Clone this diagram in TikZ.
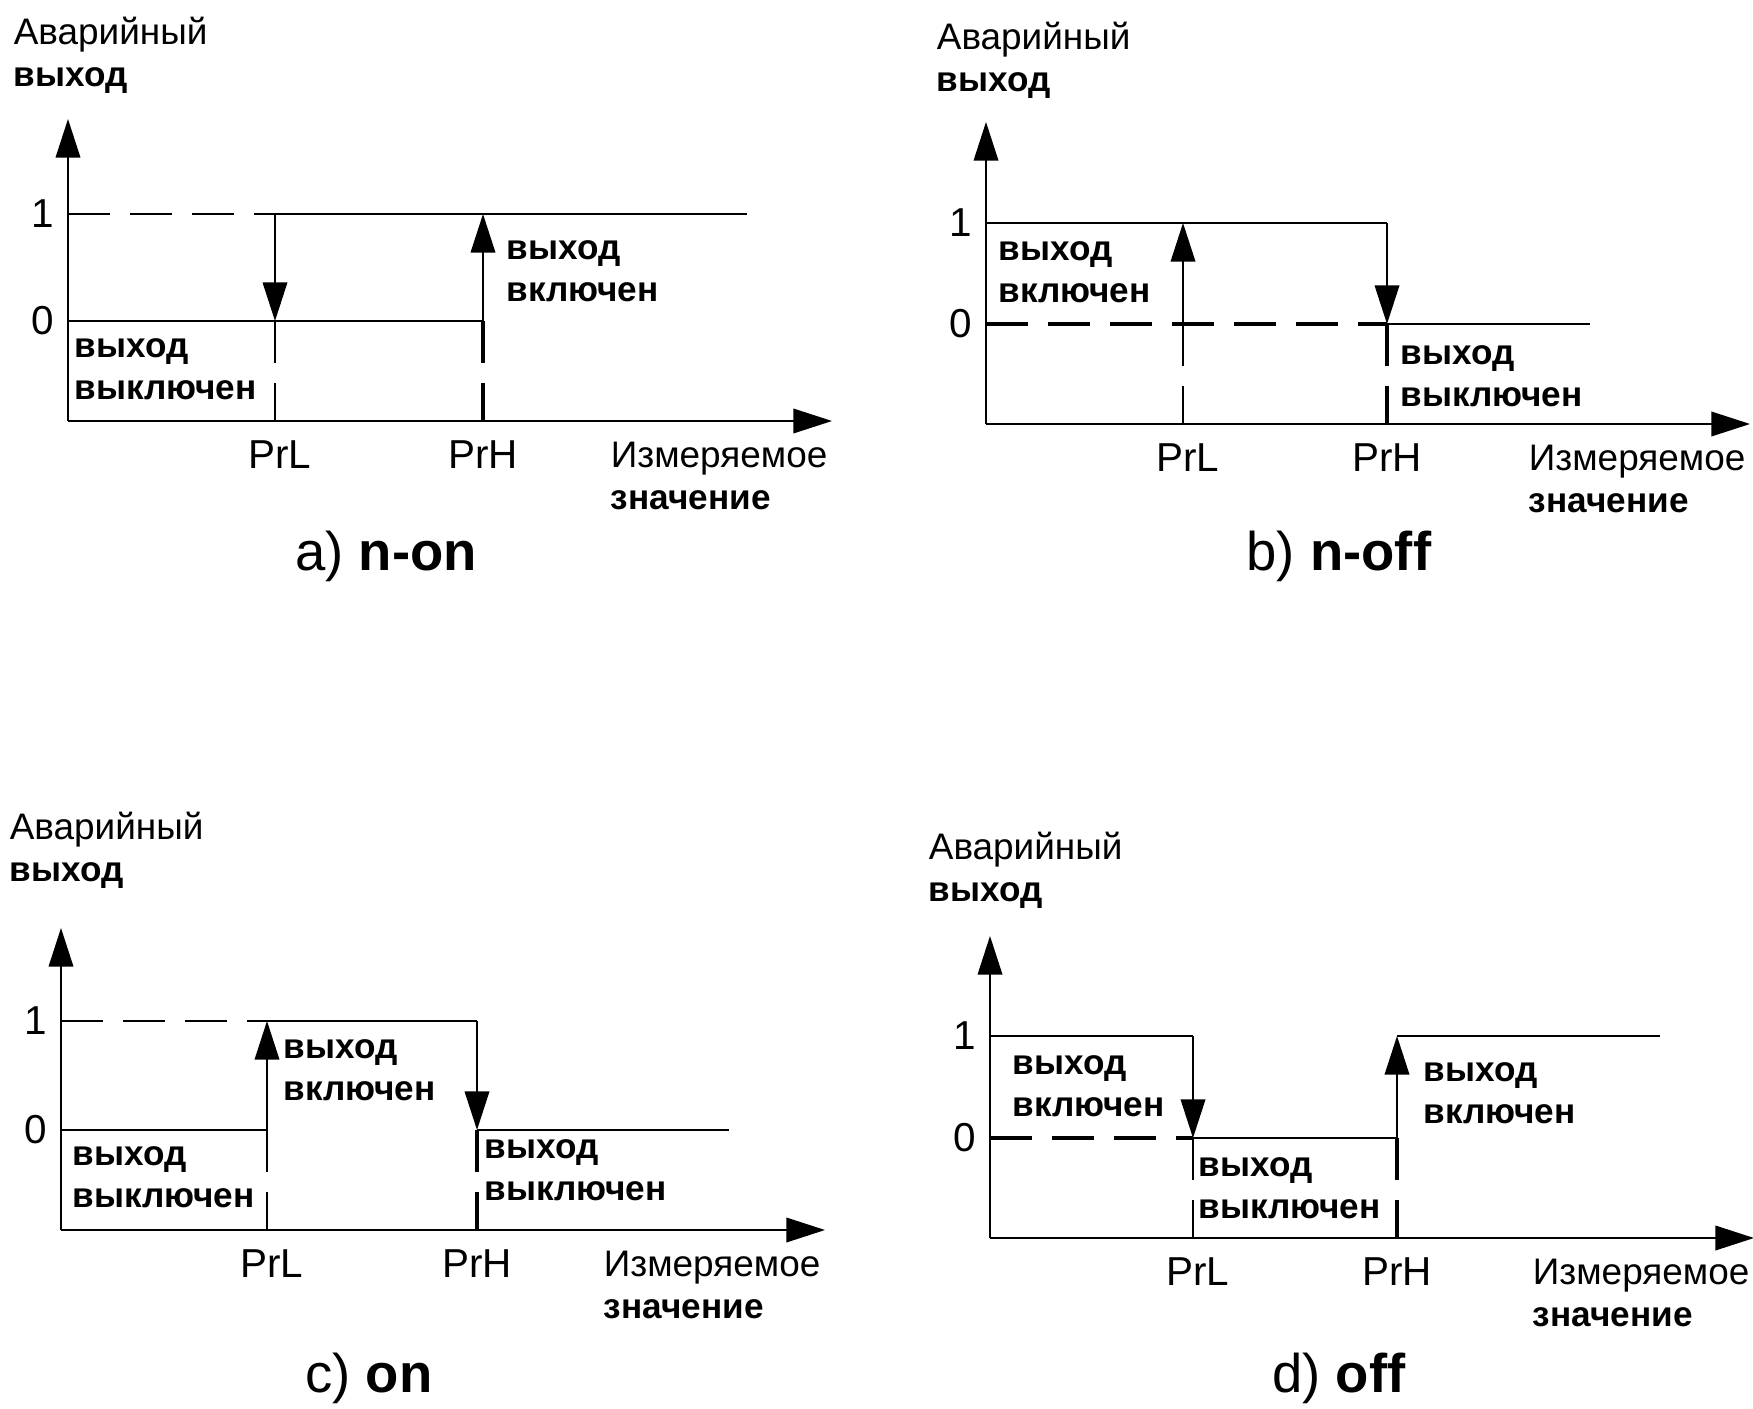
\documentclass[tikz,border=0pt]{standalone}
\usepackage{fontspec}
\setmainfont{Liberation Sans}
\usetikzlibrary{arrows.meta}

\begin{document}
\begin{tikzpicture}[
    >={Triangle[width=7pt, length=11pt]},
    line width=0.5pt,
    heavy/.style={line width=1.1pt},
    dashline/.style={dash pattern=on 0.42cm off 0.2cm},
    state/.style={font=\fontsize{10}{12}\selectfont\bfseries,
                  align=left, anchor=west, inner sep=0pt},
    axlbl/.style={font=\fontsize{10.5}{12}\selectfont,
                  align=left, anchor=west, inner sep=0pt},
    ticklbl/.style={font=\fontsize{11.5}{13}\selectfont, inner sep=0pt},
    plotcap/.style={font=\fontsize{15.5}{18}\selectfont, inner sep=0pt}
  ]
  \useasboundingbox (0,0) rectangle (17.53,14.08);

  % axes, levels and common labels of the four plots
  \foreach \p/\ox/\oy/\lv/\pl/\ph/\ex/\tx/\ty in {
      a/0.68/9.87/2.07/2.07/4.15/6.79/-0.55/3.66,
      b/9.86/9.84/2.01/1.97/4.01/6.04/-0.50/3.64,
      c/0.61/1.78/2.09/2.06/4.16/6.68/-0.52/3.80,
      d/9.90/1.70/2.02/2.03/4.07/6.70/-0.62/3.68} {
    \begin{scope}[shift={(\ox,\oy)}]
      \coordinate (\p-O)  at (0,0);
      \coordinate (\p-1)  at (0,\lv);
      \coordinate (\p-0)  at (0,1.0);
      \coordinate (\p-Lx) at (\pl,0);
      \coordinate (\p-L0) at (\pl,1.0);
      \coordinate (\p-L1) at (\pl,\lv);
      \coordinate (\p-Hx) at (\ph,0);
      \coordinate (\p-H0) at (\ph,1.0);
      \coordinate (\p-H1) at (\ph,\lv);
      \coordinate (\p-E0) at (\ex,1.0);
      \coordinate (\p-E1) at (\ex,\lv);
      \coordinate (\p-Y)  at (0,3.02);
      \coordinate (\p-X)  at (7.64,0);
      \draw[->] (\p-O) -- (\p-Y);
      \draw[->] (\p-O) -- (\p-X);
      \node[ticklbl] (\p-t1) at (-0.25,\lv) {1};
      \node[ticklbl] (\p-t0) at (-0.25,1.0) {0};
      \node[ticklbl] (\p-prl) at (\pl+0.05,-0.34) {PrL};
      \node[ticklbl] (\p-prh) at (\ph,-0.34) {PrH};
      \node[axlbl] (\p-ylbl) at (\tx,\ty) {Аварийный\\{\fontsize{10}{12}\selectfont\bfseries выход}};
      \node[axlbl] (\p-xlbl) at (5.42,-0.55) {Измеряемое\\{\fontsize{10}{12}\selectfont\bfseries значение}};
    \end{scope}
  }

  % a) n-on
  \draw[dashline] (a-1) -- (a-L1);
  \draw (a-L1) -- (a-E1);
  \draw[->] (a-L1) -- (a-L0);
  \draw (a-0) -- (a-H0);
  \draw[->] (a-H0) -- (a-H1);
  \draw[dashline] (a-L0) -- (a-Lx);
  \draw[heavy, dashline] (a-H0) -- (a-Hx);
  \begin{scope}[shift={(a-O)}]
    \node[state] (a-on) at (4.38,1.50) {выход\\включен};
    \node[state] (a-off) at (0.06,0.52) {выход\\выключен};
    \node[plotcap] (a-cap) at (3.18,-1.35) {a) \textbf{n-on}};
  \end{scope}

  % b) n-off
  \draw (b-1) -- (b-H1);
  \draw[->] (b-H1) -- (b-H0);
  \draw[heavy, dashline] (b-0) -- (b-H0);
  \draw (b-H0) -- (b-E0);
  \draw[->] (b-L0) -- (b-L1);
  \draw[dashline] (b-L0) -- (b-Lx);
  \draw[heavy, dashline] (b-H0) -- (b-Hx);
  \begin{scope}[shift={(b-O)}]
    \node[state] (b-on) at (0.12,1.52) {выход\\включен};
    \node[state] (b-off) at (4.14,0.48) {выход\\выключен};
    \node[plotcap] (b-cap) at (3.53,-1.32) {b) \textbf{n-off}};
  \end{scope}

  % c) on
  \draw[dashline] (c-1) -- (c-L1);
  \draw (c-L1) -- (c-H1);
  \draw[->] (c-H1) -- (c-H0);
  \draw (c-0) -- (c-L0);
  \draw[->] (c-L0) -- (c-L1);
  \draw (c-H0) -- (c-E0);
  \draw[dashline] (c-L0) -- (c-Lx);
  \draw[heavy, dashline] (c-H0) -- (c-Hx);
  \begin{scope}[shift={(c-O)}]
    \node[state] (c-on) at (2.22,1.60) {выход\\включен};
    \node[state] (c-off1) at (0.11,0.53) {выход\\выключен};
    \node[state] (c-off2) at (4.23,0.60) {выход\\выключен};
    \node[plotcap] (c-cap) at (3.08,-1.48) {c) \textbf{on}};
  \end{scope}

  % d) off
  \draw (d-1) -- (d-L1);
  \draw[->] (d-L1) -- (d-L0);
  \draw[heavy, dashline] (d-0) -- (d-L0);
  \draw (d-L0) -- (d-H0);
  \draw[->] (d-H0) -- (d-H1);
  \draw (d-H1) -- (d-E1);
  \draw[dashline] (d-L0) -- (d-Lx);
  \draw[heavy, dashline] (d-H0) -- (d-Hx);
  \begin{scope}[shift={(d-O)}]
    \node[state] (d-on1) at (0.22,1.52) {выход\\включен};
    \node[state] (d-off) at (2.08,0.50) {выход\\выключен};
    \node[state] (d-on2) at (4.33,1.45) {выход\\включен};
    \node[plotcap] (d-cap) at (3.49,-1.40) {d) \textbf{off}};
  \end{scope}
\end{tikzpicture}
\end{document}
